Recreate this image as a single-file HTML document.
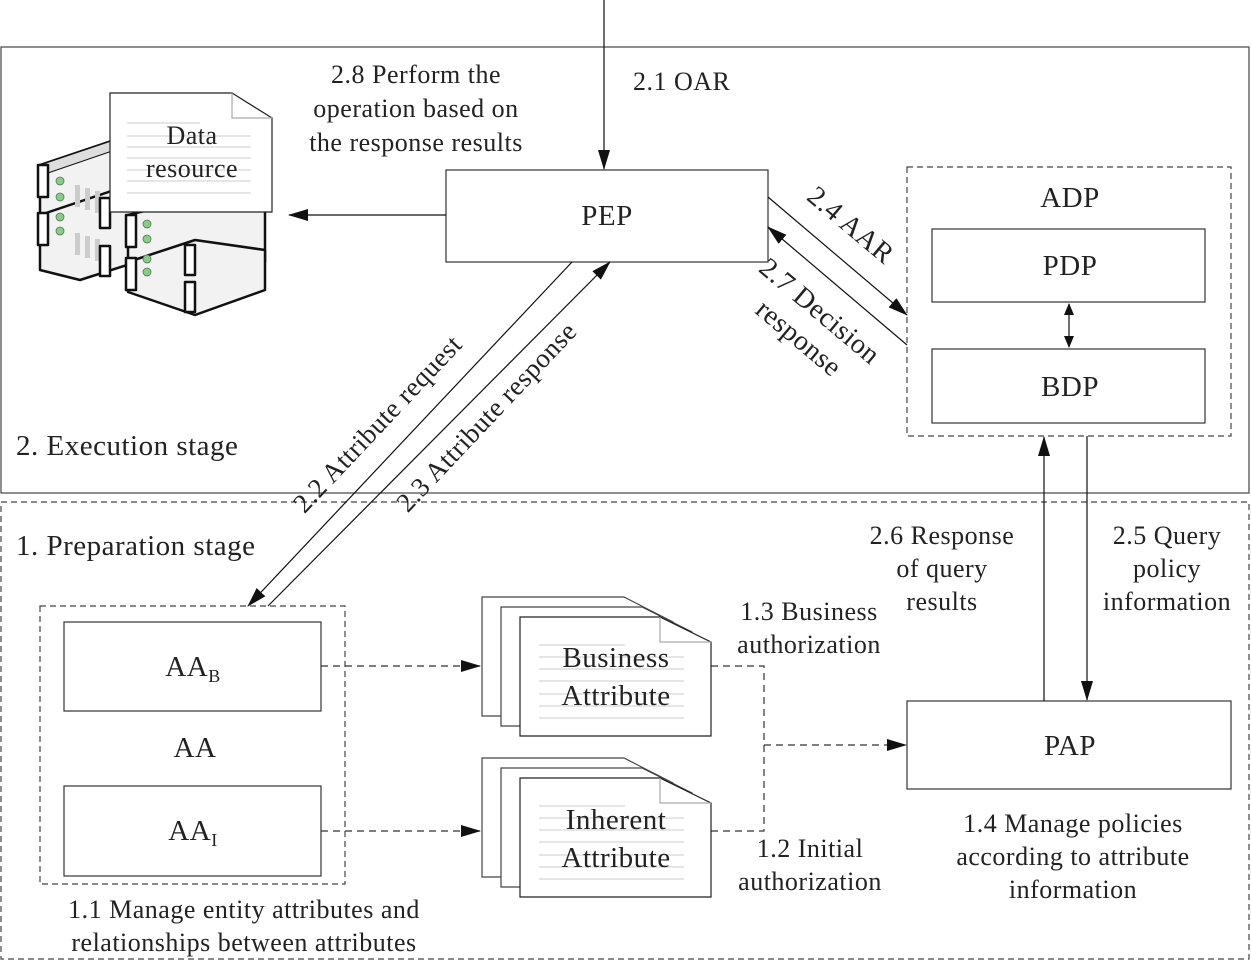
<!DOCTYPE html>
<html><head><meta charset="utf-8"><style>
html,body{margin:0;padding:0;background:#fff}
svg{display:block}
text{font-family:"Liberation Serif",serif;fill:#222;letter-spacing:0.5px}
</style></head><body>
<svg width="1251" height="961" viewBox="0 0 1251 961" xmlns="http://www.w3.org/2000/svg">
<defs>
<marker id="ah" markerWidth="12" markerHeight="10" refX="11" refY="5" orient="auto" markerUnits="userSpaceOnUse"><path d="M0,0 L12,5 L0,10 z" fill="#111"/></marker>
<marker id="ah2" markerWidth="20" markerHeight="12" refX="19" refY="6" orient="auto" markerUnits="userSpaceOnUse"><path d="M0,0 L20,6 L0,12 z" fill="#111"/></marker>
</defs>
<g fill="none" stroke="#444" stroke-width="1.2">
<rect x="1" y="47" width="1248" height="446"/>
<rect x="1" y="502" width="1248" height="457" stroke-dasharray="6,4"/>
<rect x="907" y="167" width="324" height="269" stroke-dasharray="6,4"/>
<rect x="40" y="606" width="305" height="278" stroke-dasharray="6,4"/>
<rect x="446" y="170" width="322" height="92" stroke="#333"/>
<rect x="932" y="229" width="273" height="73" stroke="#333"/>
<rect x="932" y="349" width="273" height="74" stroke="#333"/>
<rect x="64" y="622" width="257" height="89" stroke="#333"/>
<rect x="64" y="786" width="257" height="90" stroke="#333"/>
<rect x="907" y="701" width="324" height="88" stroke="#333"/>
</g>
<g stroke="#111" stroke-width="1.2" fill="none">
<line x1="604" y1="0" x2="604" y2="169" marker-end="url(#ah2)"/>
<line x1="446" y1="215" x2="289" y2="215" marker-end="url(#ah2)"/>
<line x1="768" y1="197" x2="907" y2="315" marker-end="url(#ah2)"/>
<line x1="907" y1="345" x2="768" y2="227" marker-end="url(#ah2)"/>
<line x1="572" y1="262" x2="248" y2="606" marker-end="url(#ah2)"/>
<line x1="268" y1="606" x2="610" y2="262" marker-end="url(#ah2)"/>
<line x1="1069" y1="318" x2="1069" y2="304" marker-end="url(#ah)"/>
<line x1="1069" y1="318" x2="1069" y2="347" marker-end="url(#ah)"/>
<line x1="1044" y1="701" x2="1044" y2="437" marker-end="url(#ah2)"/>
<line x1="1087" y1="436" x2="1087" y2="700" marker-end="url(#ah2)"/>
<g stroke-dasharray="7,5" stroke="#333">
<line x1="321" y1="666" x2="480" y2="666" marker-end="url(#ah2)"/>
<line x1="321" y1="831" x2="480" y2="831" marker-end="url(#ah2)"/>
<polyline points="711,666 764,666 764,831 711,831"/>
<line x1="764" y1="745" x2="906" y2="745" marker-end="url(#ah2)"/>
</g>
</g>
<!-- servers -->
<g id="srv" stroke="#111" stroke-width="2.5" stroke-linejoin="round">
<polygon points="40,165 150,128 180,138 180,200 80,232 40,222" fill="#f2f2f2"/>
<polygon points="40,165 150,128 150,138 45,174" fill="#ddd" stroke-width="1"/>
<polygon points="40,215 150,178 180,188 180,248 80,280 40,270" fill="#f2f2f2"/>
<rect x="38" y="165" width="10" height="32" fill="#fff"/>
<rect x="38" y="213" width="10" height="32" fill="#fff"/>
<g stroke="none" fill="#ccc"><rect x="75" y="185" width="5" height="22"/><rect x="85" y="188" width="5" height="22"/><rect x="95" y="191" width="5" height="22"/><rect x="75" y="233" width="5" height="22"/><rect x="85" y="236" width="5" height="22"/><rect x="95" y="239" width="5" height="22"/></g>
<rect x="100" y="198" width="10" height="30" fill="#fff"/>
<rect x="100" y="246" width="10" height="30" fill="#fff"/>
</g>
<g stroke="#111" stroke-width="2.5" stroke-linejoin="round">
<polygon points="128,215 230,190 265,205 265,262 195,285 128,262" fill="#f2f2f2"/>
<polygon points="128,262 195,240 265,250 265,290 195,315 128,292" fill="#f2f2f2"/>
<rect x="126" y="215" width="10" height="32" fill="#fff"/>
<rect x="126" y="258" width="10" height="32" fill="#fff"/>
<rect x="185" y="245" width="10" height="30" fill="#fff"/>
<rect x="185" y="282" width="10" height="30" fill="#fff"/>
</g>
<g fill="#8c8" stroke="#575" stroke-width="0.8">
<circle cx="60" cy="181" r="4"/><circle cx="60" cy="197" r="4"/><circle cx="60" cy="217" r="4"/><circle cx="60" cy="231" r="4"/>
<circle cx="147" cy="224" r="4"/><circle cx="147" cy="239" r="4"/><circle cx="147" cy="259" r="4"/><circle cx="147" cy="272" r="4"/>
</g>
<path d="M110,93 L232,93 L272,118 L272,212 L110,212 Z" fill="#fff" stroke="#222" stroke-width="1.2"/>
<path d="M232,93 L232,118 L272,118" fill="none" stroke="#aaa" stroke-width="1.2"/>
<g stroke="#ccc" stroke-width="1"><line x1="127" y1="123" x2="200" y2="123"/><line x1="127" y1="136" x2="251" y2="136"/><line x1="127" y1="147" x2="251" y2="147"/><line x1="127" y1="158" x2="251" y2="158"/><line x1="127" y1="170" x2="251" y2="170"/><line x1="127" y1="181" x2="251" y2="181"/><line x1="127" y1="193" x2="251" y2="193"/></g>
<!-- doc stacks -->
<g id="stk">
<path d="M482,597 L624,597 L673,622 L673,716 L482,716 Z" fill="#fff" stroke="#444" stroke-width="1.2"/>
<path d="M501,607 L642,607 L692,632 L692,726 L501,726 Z" fill="#fff" stroke="#444" stroke-width="1.2"/>
<path d="M520,617 L660,617 L711,642 L711,736 L520,736 Z" fill="#fff" stroke="#222" stroke-width="1.2"/>
<path d="M660,617 L660,642 L711,642" fill="none" stroke="#aaa" stroke-width="1.2"/>
<g stroke="#ccc"><line x1="539" y1="645" x2="625" y2="645"/><line x1="539" y1="657" x2="684" y2="657"/><line x1="539" y1="669" x2="684" y2="669"/><line x1="539" y1="681" x2="684" y2="681"/><line x1="539" y1="694" x2="684" y2="694"/><line x1="539" y1="706" x2="684" y2="706"/><line x1="539" y1="718" x2="684" y2="718"/></g>
</g>
<use href="#stk" transform="translate(0,161)"/>
<g font-size="26">
<text x="192" y="144" text-anchor="middle">Data</text>
<text x="192" y="177" text-anchor="middle">resource</text>
<g font-size="29">
<text x="616" y="667" text-anchor="middle">Business</text>
<text x="616" y="705" text-anchor="middle">Attribute</text>
<text x="616" y="829" text-anchor="middle">Inherent</text>
<text x="616" y="867" text-anchor="middle">Attribute</text>
<text x="607" y="225" text-anchor="middle">PEP</text>
<text x="1070" y="207" text-anchor="middle">ADP</text>
<text x="1070" y="275" text-anchor="middle">PDP</text>
<text x="1070" y="396" text-anchor="middle">BDP</text>
<text x="1070" y="755" text-anchor="middle">PAP</text>
<text x="193" y="676" text-anchor="middle">AA<tspan font-size="18" dy="6">B</tspan></text>
<text x="195" y="757" text-anchor="middle">AA</text>
<text x="193" y="840" text-anchor="middle">AA<tspan font-size="18" dy="6">I</tspan></text>
<text x="16" y="455">2. Execution stage</text>
<text x="16" y="555">1. Preparation stage</text>
</g>
<text x="416" y="83" text-anchor="middle">2.8 Perform the</text>
<text x="416" y="117" text-anchor="middle">operation based on</text>
<text x="416" y="151" text-anchor="middle">the response results</text>
<text x="633" y="90">2.1 OAR</text>
<text x="942" y="544" text-anchor="middle">2.6 Response</text>
<text x="942" y="577" text-anchor="middle">of query</text>
<text x="942" y="610" text-anchor="middle">results</text>
<text x="1167" y="544" text-anchor="middle">2.5 Query</text>
<text x="1167" y="577" text-anchor="middle">policy</text>
<text x="1167" y="610" text-anchor="middle">information</text>
<text x="809" y="620" text-anchor="middle">1.3 Business</text>
<text x="809" y="653" text-anchor="middle">authorization</text>
<text x="810" y="857" text-anchor="middle">1.2 Initial</text>
<text x="810" y="890" text-anchor="middle">authorization</text>
<text x="1073" y="832" text-anchor="middle">1.4 Manage policies</text>
<text x="1073" y="865" text-anchor="middle">according to attribute</text>
<text x="1073" y="898" text-anchor="middle">information</text>
<text x="244" y="918" text-anchor="middle">1.1 Manage entity attributes and</text>
<text x="244" y="951" text-anchor="middle">relationships between attributes</text>
<g font-size="27">
<text transform="translate(384,430) rotate(-46.7)" text-anchor="middle">2.2 Attribute request</text>
<text transform="translate(493,423) rotate(-46.7)" text-anchor="middle">2.3 Attribute response</text>
<text transform="translate(845,232) rotate(40)" text-anchor="middle" font-size="28">2.4 AAR</text>
<text transform="translate(814,318) rotate(40)" text-anchor="middle" font-size="28">2.7 Decision</text>
<text transform="translate(793,345) rotate(40)" text-anchor="middle" font-size="28">response</text>
</g>
</g>
</svg>
</body></html>
